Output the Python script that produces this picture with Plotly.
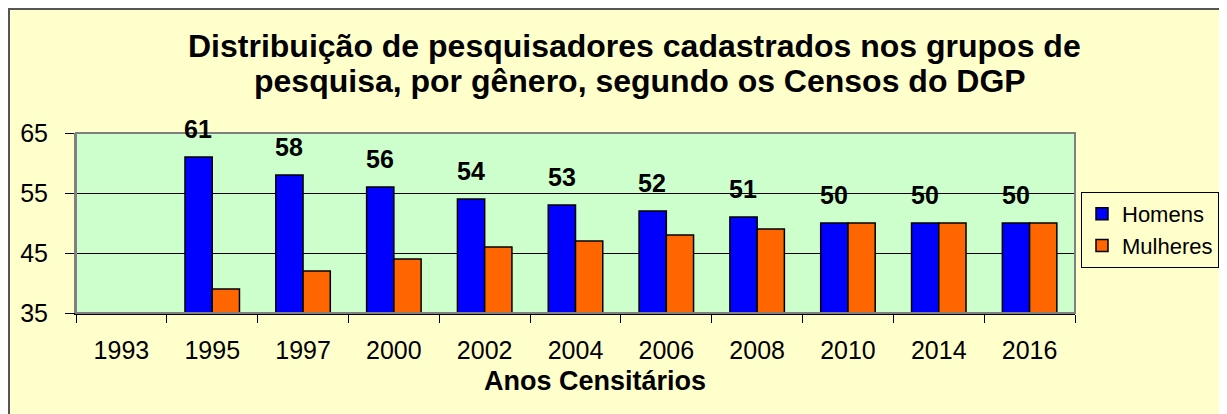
import plotly.graph_objects as go

anos = ["1993", "1995", "1997", "2000", "2002", "2004", "2006", "2008", "2010", "2014", "2016"]
homens = [None, 61, 58, 56, 54, 53, 52, 51, 50, 50, 50]
mulheres = [None, 39, 42, 44, 46, 47, 48, 49, 50, 50, 50]
titulo_l1 = "Distribuição de pesquisadores cadastrados nos grupos de"
titulo_l2 = "pesquisa, por gênero, segundo os Censos do DGP"

FONT = "Liberation Sans, Arial, sans-serif"
OFF = 8  # default page margin of the html body
W, H = 1227 - OFF, 414 - OFF
# plot area in page pixels: x 76..1075, y 133..313
L, R, T, B = 76 - OFF, 1227 - 1075, 133 - OFF, 414 - 313
pw, ph = W - L - R, H - T - B


def px(x):
    # page pixel -> paper x
    return (x - OFF - L) / pw


def py(y):
    # page pixel -> paper y
    return (H - B - (y - OFF)) / ph


fig = go.Figure()
fig.add_trace(go.Bar(x=anos, y=homens, name="Homens",
                     marker=dict(color="#0000FF", line=dict(color="black", width=1.5))))
fig.add_trace(go.Bar(x=anos, y=mulheres, name="Mulheres",
                     marker=dict(color="#FF6600", line=dict(color="black", width=1.5))))

annotations = []
for i, v in enumerate(homens):
    if v is None:
        continue
    annotations.append(dict(x=i, y=v, xref="x", yref="y", text=str(v), showarrow=False,
                            xshift=-14, yshift=12, yanchor="bottom",
                            font=dict(family=FONT, size=25, color="black", weight="bold")))

annotations.append(dict(xref="paper", yref="paper", x=px(634), y=py(46),
                        text=titulo_l1, showarrow=False, xanchor="center", yanchor="middle",
                        font=dict(family=FONT, size=32, color="black", weight="bold")))
annotations.append(dict(xref="paper", yref="paper", x=px(640), y=py(81),
                        text=titulo_l2, showarrow=False, xanchor="center", yanchor="middle",
                        font=dict(family=FONT, size=32, color="black", weight="bold")))
annotations.append(dict(xref="paper", yref="paper", x=px(595), y=py(381),
                        text="Anos Censitários", showarrow=False,
                        xanchor="center", yanchor="middle",
                        font=dict(family=FONT, size=27, color="black", weight="bold")))

shapes = [
    # outer chart border
    dict(type="rect", xref="paper", yref="paper", x0=px(9), x1=px(1225), y0=py(440), y1=py(9),
         line=dict(color="#555555", width=2), layer="above"),
    # plot area border
    dict(type="rect", xref="paper", yref="paper", x0=0, x1=1, y0=0, y1=1,
         line=dict(color="#808080", width=2), layer="above"),
]

fig.update_layout(
    width=W, height=H,
    margin=dict(l=L, r=R, t=T, b=B, autoexpand=False),
    paper_bgcolor="#FFFFCC",
    plot_bgcolor="#CCFFCC",
    barmode="group", bargap=0.4, bargroupgap=0,
    font=dict(family=FONT, size=22, color="black"),
    showlegend=True,
    legend=dict(x=px(1081), y=py(192), xanchor="left", yanchor="top",
                bgcolor="#FFFFCC", bordercolor="black", borderwidth=1,
                font=dict(family=FONT, size=22, color="black"),
                itemwidth=30, tracegroupgap=0),
    annotations=annotations,
    shapes=shapes,
)
fig.update_xaxes(type="category", range=[-0.5, len(anos) - 0.5],
                 tickson="boundaries", ticks="outside", ticklen=8,
                 tickcolor="black", showline=True, linecolor="black", linewidth=1.5,
                 showgrid=False, ticklabelstandoff=14,
                 tickfont=dict(family=FONT, size=25, color="black"))
fig.update_yaxes(range=[35, 65], tickvals=[35, 45, 55, 65], ticks="outside", ticklen=9,
                 tickcolor="black", showline=True, linecolor="#808080", linewidth=2,
                 showgrid=True, gridcolor="black", gridwidth=1, zeroline=False,
                 ticklabelstandoff=12,
                 tickfont=dict(family=FONT, size=25, color="black"))

fig.write_html("out.html")
